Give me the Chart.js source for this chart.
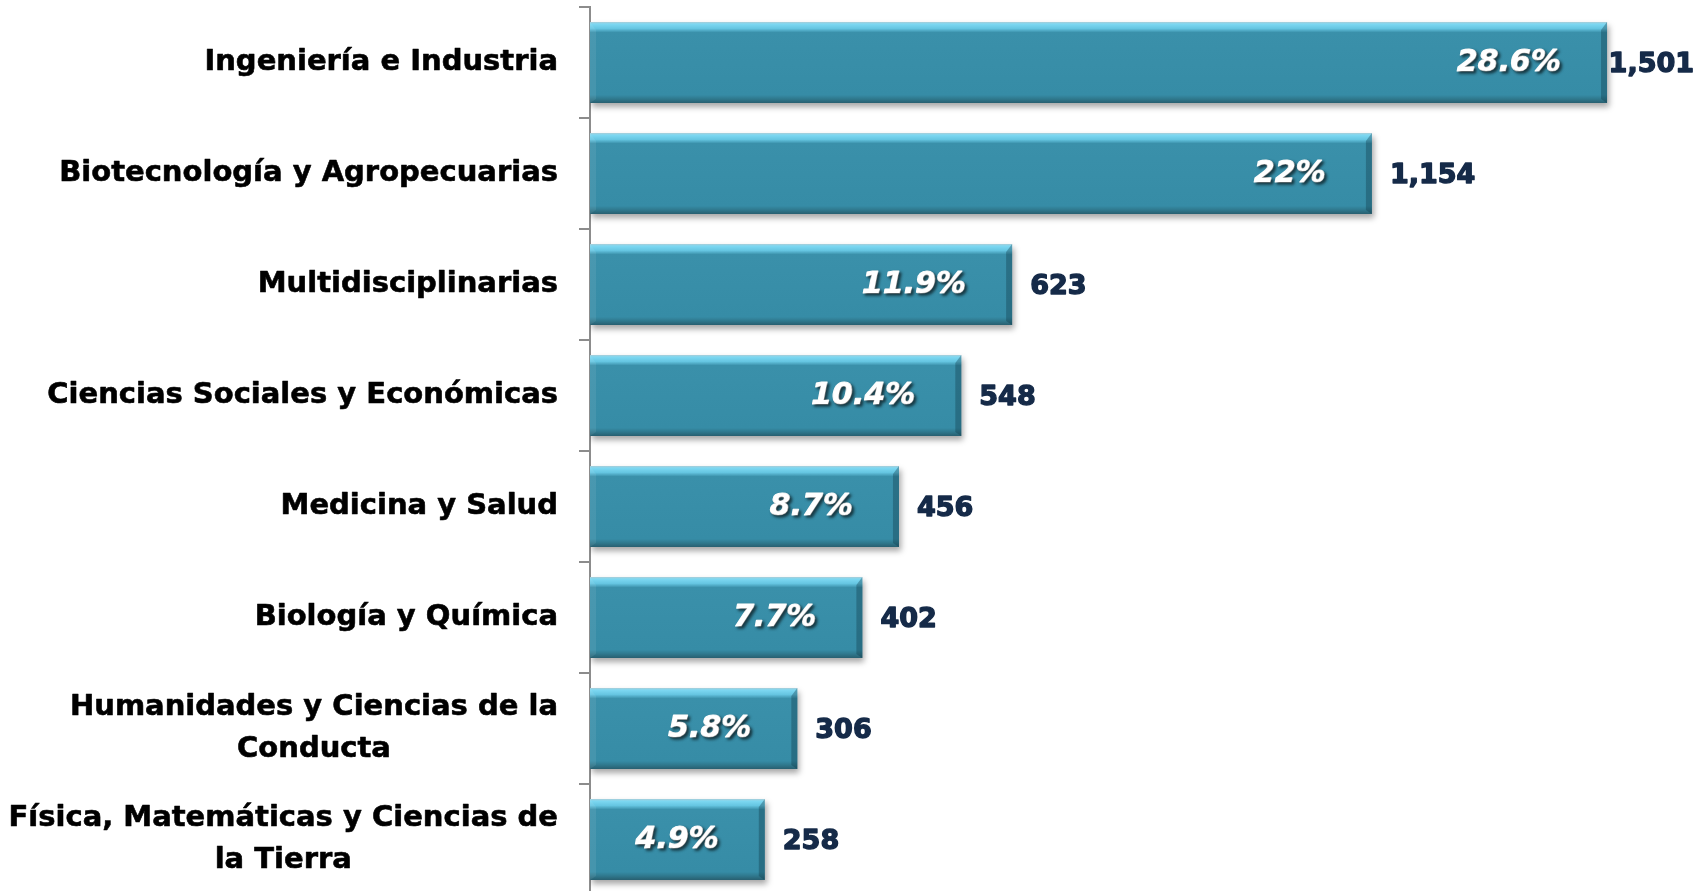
<!DOCTYPE html>
<html>
<head>
<meta charset="utf-8">
<script src="https://cdn.jsdelivr.net/npm/chart.js@4"></script>
<style>
  html, body { margin: 0; padding: 0; background: #fff; overflow: hidden; }
</style>
</head>
<body>
<canvas id="areasChart" width="1708" height="895"></canvas>
<script>
const categories = [
  ['Ingeniería e Industria'],
  ['Biotecnología y Agropecuarias'],
  ['Multidisciplinarias'],
  ['Ciencias Sociales y Económicas'],
  ['Medicina y Salud'],
  ['Biología y Química'],
  ['Humanidades y Ciencias de la', 'Conducta'],
  ['Física, Matemáticas y Ciencias de', 'la Tierra'],
];
const projects = [1501, 1154, 623, 548, 456, 402, 306, 258];
const shares = [28.6, 22, 11.9, 10.4, 8.7, 7.7, 5.8, 4.9];

const BAR_PCT = 0.73;

// vertical bevel gradient for each bar, positioned from the y scale
function barFill(context) {
  const chart = context.chart;
  const y = chart.scales.y;
  if (!y || context.dataIndex === undefined) return '#378da7';
  const center = y.getPixelForValue(context.dataIndex);
  const h = (y.height / categories.length) * BAR_PCT;
  const top = center - h / 2;
  if (!isFinite(top) || !isFinite(h) || h <= 0) return '#378da7';
  const g = chart.ctx.createLinearGradient(0, top, 0, top + h);
  g.addColorStop(0, '#a9cdd8');
  g.addColorStop(0.025, '#7dd8f2');
  g.addColorStop(0.08, '#66c6e2');
  g.addColorStop(0.13, '#3a90aa');
  g.addColorStop(0.9, '#368ca6');
  g.addColorStop(0.95, '#2f788d');
  g.addColorStop(1, '#285f70');
  return g;
}

const barShadow = {
  id: 'barShadow',
  beforeDatasetsDraw(chart) {
    const ctx = chart.ctx;
    ctx.save();
    ctx.shadowColor = 'rgba(0, 0, 0, 0.35)';
    ctx.shadowBlur = 6;
    ctx.shadowOffsetX = 2;
    ctx.shadowOffsetY = 4;
  },
  afterDatasetsDraw(chart) {
    const ctx = chart.ctx;
    ctx.restore();
    // darker bevel at the end of each bar
    ctx.save();
    chart.getDatasetMeta(0).data.forEach((el) => {
      const top = el.y - el.height / 2;
      const bottom = el.y + el.height / 2;
      ctx.fillStyle = 'rgba(15, 55, 70, 0.35)';
      ctx.beginPath();
      ctx.moveTo(el.x, top);
      ctx.lineTo(el.x, bottom);
      ctx.lineTo(el.x - 6, bottom - 4);
      ctx.lineTo(el.x - 6, top + 8);
      ctx.closePath();
      ctx.fill();
      ctx.fillStyle = 'rgba(255, 255, 255, 0.08)';
      ctx.beginPath();
      ctx.moveTo(el.base, top);
      ctx.lineTo(el.base + 6, top + 8);
      ctx.lineTo(el.base + 6, bottom - 4);
      ctx.lineTo(el.base, bottom);
      ctx.closePath();
      ctx.fill();
    });
    ctx.restore();
  },
};

function heavyText(ctx, txt, x, y, width) {
  ctx.lineWidth = width;
  ctx.lineJoin = 'round';
  ctx.strokeText(txt, x, y);
  ctx.fillText(txt, x, y);
}

const textLabels = {
  id: 'textLabels',
  afterDraw(chart) {
    const { ctx, chartArea } = chart;
    const y = chart.scales.y;
    const meta = chart.getDatasetMeta(0);
    ctx.save();

    // category names, block right-aligned, lines centred
    ctx.font = 'bold 29px "DejaVu Sans"';
    ctx.fillStyle = '#000';
    ctx.strokeStyle = '#000';
    ctx.textAlign = 'center';
    ctx.textBaseline = 'middle';
    const rightEdge = chartArea.left - 32;
    categories.forEach((lines, i) => {
      const cy = y.getPixelForValue(i);
      const w = Math.max(...lines.map((l) => ctx.measureText(l).width));
      const cx = rightEdge - w / 2;
      lines.forEach((l, k) => {
        heavyText(ctx, l, cx, cy + (k - (lines.length - 1) / 2) * 42, 0.6);
      });
    });

    // project counts after each bar
    ctx.font = 'bold 27px "DejaVu Sans"';
    ctx.fillStyle = '#152a48';
    ctx.strokeStyle = '#152a48';
    ctx.textAlign = 'left';
    meta.data.forEach((el, i) => {
      const txt = projects[i].toLocaleString('en-US');
      const w = ctx.measureText(txt).width;
      const x = Math.min(el.x + 18, chart.width - 14 - w);
      heavyText(ctx, txt, x, el.y + 2, 1.4);
    });

    // percentages inside the bars
    ctx.font = 'italic bold 30px "DejaVu Sans"';
    ctx.fillStyle = '#fff';
    ctx.strokeStyle = '#fff';
    ctx.textAlign = 'right';
    ctx.shadowColor = 'rgba(0, 0, 0, 0.6)';
    ctx.shadowBlur = 3;
    ctx.shadowOffsetX = 2;
    ctx.shadowOffsetY = 2;
    meta.data.forEach((el, i) => {
      heavyText(ctx, shares[i] + '%', el.x - 46, el.y + 1, 1.2);
    });
    ctx.restore();
  },
};

new Chart(document.getElementById('areasChart'), {
  type: 'bar',
  data: {
    labels: categories,
    datasets: [
      {
        data: projects,
        backgroundColor: barFill,
        borderWidth: 0,
        barPercentage: BAR_PCT,
        categoryPercentage: 1,
      },
    ],
  },
  options: {
    indexAxis: 'y',
    responsive: false,
    animation: false,
    events: [],
    layout: { padding: { top: 7, left: 0, right: 0, bottom: 0 } },
    plugins: {
      legend: { display: false },
      tooltip: { enabled: false },
    },
    scales: {
      x: {
        display: false,
        min: 0,
        max: 1650,
      },
      y: {
        ticks: { display: false },
        grid: {
          offset: true,
          drawOnChartArea: false,
          drawTicks: true,
          tickLength: 11,
          color: '#8c8c8c',
          lineWidth: 2,
        },
        border: { display: true, color: '#8c8c8c', width: 2 },
        afterFit(scale) {
          scale.width = 590;
        },
      },
    },
  },
  plugins: [barShadow, textLabels],
});
</script>
</body>
</html>
